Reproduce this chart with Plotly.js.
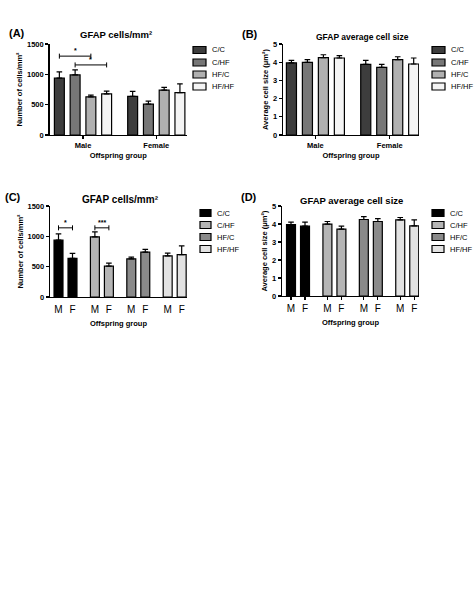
<!DOCTYPE html>
<html><head><meta charset="utf-8">
<script src="https://cdn.plot.ly/plotly-3.0.1.min.js"></script>
<style>html,body{margin:0;padding:0;background:#fff}#chart{width:474px;height:592px}</style>
</head><body><div id="chart"></div>
<script>
// ---- data ----
const groups = ['C/C', 'C/HF', 'HF/C', 'HF/HF'];
const sexes = ['Male', 'Female'];
const sexShort = ['M', 'F'];
const cellsMale = [937, 990, 630, 678];
const cellsMaleErr = [105, 82, 28, 45];
const cellsFemale = [638, 508, 740, 697];
const cellsFemaleErr = [80, 50, 46, 145];
const sizeMale = [3.96, 3.99, 4.25, 4.23];
const sizeMaleErr = [0.14, 0.15, 0.16, 0.13];
const sizeFemale = [3.88, 3.72, 4.14, 3.90];
const sizeFemaleErr = [0.22, 0.16, 0.16, 0.33];
const cellsTicks = [0, 500, 1000, 1500];
const sizeTicks = [0, 1, 2, 3, 4, 5];
const colorsAB = ['#3d3d3d', '#777777', '#b0b0b0', '#f4f4f4'];
const colorsCD = ['#000000', '#b5b5b5', '#8a8a8a', '#e2e2e2'];
// significance: panel A compares groups within Male; panel C compares sexes within a group
const sigA = [{a: 0, b: 2, sex: 0, y: 1300, label: '*'}, {a: 1, b: 3, sex: 0, y: 1155, label: '*'}];
const sigC = [{group: 0, y: 1140, label: '*'}, {group: 1, y: 1140, label: '***'}];

// ---- layout helpers ----
const W = 474, H = 592;
const px = p => p / W;
const py = p => 1 - p / H;
const FONT = 'Liberation Sans, Arial, sans-serif';
const BAR_GAP = 0.14, BAR_GROUP_GAP = 0.37;
const GROUP_STEP = 2.6, CD_WIDTH = 0.64;

const panels = {
  A: {x: [49.5, 187], y: [44, 135]},
  B: {x: [283, 419], y: [44, 135]},
  C: {x: [50, 187], y: [206, 297]},
  D: {x: [282, 419], y: [206, 296]}
};

const data = [];
const errStyle = {color: '#000', thickness: 1.2, width: 2.8};

// Panels A and B: grouped by sex
function addGrouped(male, maleErr, female, femaleErr, xa, ya) {
  groups.forEach((g, i) => {
    data.push({
      type: 'bar', name: g, x: sexes, y: [male[i], female[i]],
      xaxis: xa, yaxis: ya, showlegend: false,
      marker: {color: colorsAB[i], line: {color: '#000', width: 1.2}},
      error_y: Object.assign({type: 'data', symmetric: false, array: [maleErr[i], femaleErr[i]], arrayminus: [0, 0]}, errStyle)
    });
  });
}
// Panels C and D: grouped by treatment, M/F within
const cdPos = (gi, si) => gi * GROUP_STEP + si;
function addBySex(male, maleErr, female, femaleErr, xa, ya) {
  groups.forEach((g, i) => {
    data.push({
      type: 'bar', name: g, x: [cdPos(i, 0), cdPos(i, 1)], y: [male[i], female[i]],
      width: CD_WIDTH, offset: -CD_WIDTH / 2,
      xaxis: xa, yaxis: ya, showlegend: false,
      marker: {color: colorsCD[i], line: {color: '#000', width: 1.2}},
      error_y: Object.assign({type: 'data', symmetric: false, array: [maleErr[i], femaleErr[i]], arrayminus: [0, 0]}, errStyle)
    });
  });
}
addGrouped(cellsMale, cellsMaleErr, cellsFemale, cellsFemaleErr, 'x', 'y');
addGrouped(sizeMale, sizeMaleErr, sizeFemale, sizeFemaleErr, 'x2', 'y2');
addBySex(cellsMale, cellsMaleErr, cellsFemale, cellsFemaleErr, 'x3', 'y3');
addBySex(sizeMale, sizeMaleErr, sizeFemale, sizeFemaleErr, 'x4', 'y4');

const cdTickVals = [], cdTickText = [];
groups.forEach((g, i) => sexShort.forEach((s, j) => { cdTickVals.push(cdPos(i, j)); cdTickText.push(s); }));

const axisBase = {
  showgrid: false, zeroline: false, showline: true, linecolor: '#000', linewidth: 1.3,
  ticks: 'outside', ticklen: 3, tickwidth: 1.2, tickcolor: '#000',
  tickfont: {family: FONT, size: 7.5, color: '#000', weight: 'bold'}, fixedrange: true
};
const axTitleFont = {family: FONT, size: 7.5, color: '#000', weight: 'bold'};

function xCat(p, range) {
  return Object.assign({}, axisBase, {
    domain: [px(p.x[0]), px(p.x[1])], type: 'category', range: range,
    tickfont: {family: FONT, size: 7.5, color: '#000', weight: 'bold'},
    title: {text: 'Offspring group', font: axTitleFont, standoff: 3}
  });
}
function xSex(p, range, tickcolor) {
  return Object.assign({}, axisBase, {
    domain: [px(p.x[0]), px(p.x[1])], range: range,
    tickmode: 'array', tickvals: cdTickVals, ticktext: cdTickText, tickcolor: tickcolor,
    tickfont: {family: FONT, size: 10, color: '#000'},
    title: {text: 'Offspring group', font: axTitleFont, standoff: 6}
  });
}
function yAx(p, range, ticks, title, anchor) {
  return Object.assign({}, axisBase, {
    domain: [py(p.y[1]), py(p.y[0])], range: range, anchor: anchor,
    tickmode: 'array', tickvals: ticks,
    title: {text: title, font: axTitleFont, standoff: 3}
  });
}

const layout = {
  width: W, height: H, margin: {l: 0, r: 0, t: 0, b: 0},
  paper_bgcolor: '#fff', plot_bgcolor: 'rgba(0,0,0,0)',
  barmode: 'group', bargap: BAR_GAP, bargroupgap: BAR_GROUP_GAP,
  showlegend: false,
  font: {family: FONT, color: '#000'},
  xaxis: Object.assign(xCat(panels.A, [-0.457, 1.419]), {anchor: 'y'}),
  yaxis: yAx(panels.A, [0, 1500], cellsTicks, 'Number of cells/mm²', 'x'),
  xaxis2: Object.assign(xCat(panels.B, [-0.436, 1.394]), {anchor: 'y2'}),
  yaxis2: yAx(panels.B, [0, 5], sizeTicks, 'Average cell size (μm²)', 'x2'),
  xaxis3: Object.assign(xSex(panels.C, [-0.607, 9.18], 'rgba(0,0,0,0)'), {anchor: 'y3'}),
  yaxis3: yAx(panels.C, [0, 1500], cellsTicks, 'Number of cells/mm²', 'x3'),
  xaxis4: Object.assign(xSex(panels.D, [-0.643, 9.14], '#000'), {anchor: 'y4'}),
  yaxis4: yAx(panels.D, [0, 5], sizeTicks, 'Average cell size (μm²)', 'x4'),
  shapes: [], annotations: []
};

// panel letters and titles
const bold = size => ({family: FONT, size: size, color: '#000', weight: 'bold'});
function paperText(text, x, y, size, xanchor) {
  layout.annotations.push({text: text, xref: 'paper', yref: 'paper', x: px(x), y: py(y),
    xanchor: xanchor || 'center', yanchor: 'middle', showarrow: false, font: bold(size)});
}
paperText('(A)', 7, 33, 11, 'left');
paperText('(B)', 240, 34, 11, 'left');
paperText('(C)', 3, 197, 11, 'left');
paperText('(D)', 239, 197, 11, 'left');
paperText('GFAP cells/mm²', 116, 35, 9.5);
paperText('GFAP average cell size', 362, 37, 8.5);
paperText('GFAP cells/mm²', 120, 199, 10);
paperText('GFAP average cell size', 351, 200, 9.5);

// custom legends
function legend(boxX0, boxX1, textX, ys, colors, size) {
  groups.forEach((g, i) => {
    layout.shapes.push({type: 'rect', xref: 'paper', yref: 'paper',
      x0: px(boxX0), x1: px(boxX1), y0: py(ys[i] + 3.5), y1: py(ys[i] - 3.5),
      fillcolor: colors[i], line: {color: '#000', width: 1.2}});
    layout.annotations.push({text: g, xref: 'paper', yref: 'paper', x: px(textX), y: py(ys[i]),
      xanchor: 'left', yanchor: 'middle', showarrow: false,
      font: {family: FONT, size: size, color: '#000'}});
  });
}
legend(193, 206, 210, [50, 62.5, 74.5, 86.5], colorsAB, 7.5);
legend(432, 445, 449, [50, 62.5, 74.5, 86.5], colorsAB, 7.5);
legend(200, 211, 215, [213, 225, 237, 249], colorsCD, 7.5);
legend(432, 444, 448, [213, 225, 237, 249], colorsCD, 7.5);

// significance brackets
function bracket(xa, ya, x0, x1, y, label) {
  layout.shapes.push({type: 'line', xref: xa, yref: ya, x0: x0, x1: x1, y0: y, y1: y, line: {color: '#000', width: 1}});
  [x0, x1].forEach(xx => layout.shapes.push({type: 'line', xref: xa, yref: ya, ysizemode: 'pixel', yanchor: y,
    x0: xx, x1: xx, y0: -2.5, y1: 2.5, line: {color: '#000', width: 1}}));
  layout.annotations.push({text: label, xref: xa, yref: ya, x: (x0 + x1) / 2, y: y, yshift: 0,
    yanchor: 'bottom', showarrow: false, font: bold(7)});
}
const slot = (1 - BAR_GAP) / groups.length;
const abCenter = (gi, si) => si + (gi - (groups.length - 1) / 2) * slot;
sigA.forEach(s => bracket('x', 'y', abCenter(s.a, s.sex), abCenter(s.b, s.sex), s.y, s.label));
sigC.forEach(s => bracket('x3', 'y3', cdPos(s.group, 0), cdPos(s.group, 1), s.y, s.label));

Plotly.newPlot('chart', data, layout, {displayModeBar: false, staticPlot: true});
</script>
</body></html>
